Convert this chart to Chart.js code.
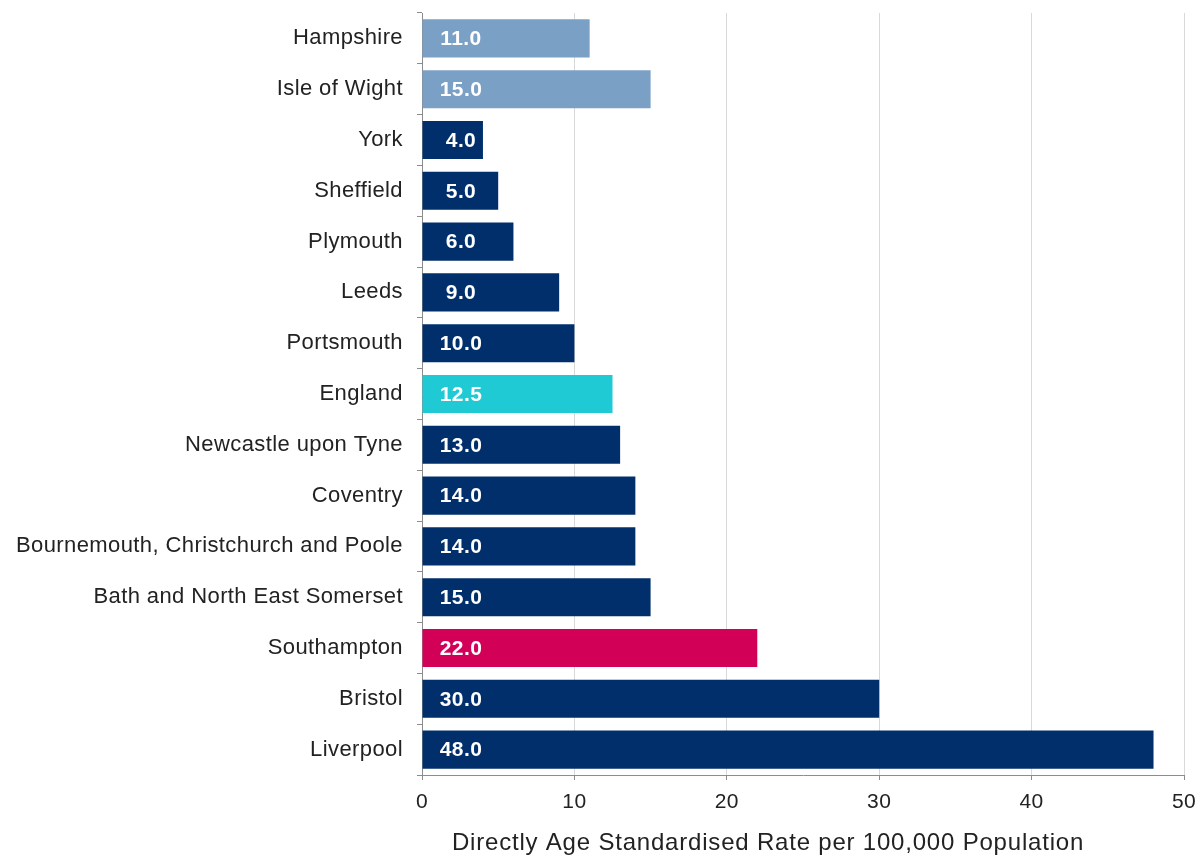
<!DOCTYPE html>
<html>
<head>
<meta charset="utf-8">
<script src="https://cdn.jsdelivr.net/npm/chart.js@4/dist/chart.umd.min.js"></script>
<style>
  html, body { margin: 0; padding: 0; background: #fff; }
  #wrap { width: 1204px; height: 858px; }
</style>
</head>
<body>
<div id="wrap"><canvas id="chart" width="1204" height="858"></canvas></div>
<script>
// 地域別の率（人口10万人あたり）
const areas = [
  'Hampshire', 'Isle of Wight', 'York', 'Sheffield', 'Plymouth', 'Leeds',
  'Portsmouth', 'England', 'Newcastle upon Tyne', 'Coventry',
  'Bournemouth, Christchurch and Poole', 'Bath and North East Somerset',
  'Southampton', 'Bristol', 'Liverpool'
];
const rates = [11.0, 15.0, 4.0, 5.0, 6.0, 9.0, 10.0, 12.5, 13.0, 14.0, 14.0, 15.0, 22.0, 30.0, 48.0];
const xTicks = [0, 10, 20, 30, 40, 50];
const xTitle = 'Directly Age Standardised Rate per 100,000 Population';

const FONT = '"Liberation Sans", Arial, sans-serif';
const NAVY = '#002F6B';
const barColors = areas.map((name) => {
  if (name === 'Hampshire' || name === 'Isle of Wight') return '#7BA0C6';
  if (name === 'England') return '#1FCAD5';
  if (name === 'Southampton') return '#D30058';
  return NAVY;
});

// 文字間隔を少し広げる（計測前に設定）
const letterSpacing = {
  id: 'letterSpacing',
  beforeInit(chart) { chart.ctx.letterSpacing = '0.4px'; },
  beforeUpdate(chart) { chart.ctx.letterSpacing = '0.4px'; }
};

// バー内の値ラベルと軸タイトルを描画
const overlayText = {
  id: 'overlayText',
  afterDatasetsDraw(chart) {
    const { ctx, scales: { x, y } } = chart;
    const cx = x.getPixelForValue(0) + 39;
    ctx.save();
    ctx.letterSpacing = '0.4px';
    ctx.fillStyle = '#ffffff';
    ctx.font = 'bold 21px ' + FONT;
    ctx.textAlign = 'center';
    ctx.textBaseline = 'middle';
    rates.forEach((v, i) => {
      ctx.fillText(v.toFixed(1), cx, y.getPixelForValue(i) + 1);
    });
    // 軸タイトル（やや左寄せ）
    ctx.letterSpacing = '0.8px';
    ctx.fillStyle = '#222';
    ctx.font = '24px ' + FONT;
    ctx.fillText(xTitle, 768, 843);
    ctx.restore();
  }
};

Chart.defaults.font.family = FONT;
Chart.defaults.color = '#222';

new Chart(document.getElementById('chart'), {
  type: 'bar',
  data: {
    labels: areas,
    datasets: [{
      data: rates,
      backgroundColor: barColors,
      borderWidth: 0,
      categoryPercentage: 1.0,
      barPercentage: 0.75
    }]
  },
  options: {
    indexAxis: 'y',
    responsive: false,
    animation: false,
    layout: { padding: { top: 13, right: 20, left: 0, bottom: 0 } },
    plugins: {
      legend: { display: false },
      tooltip: { enabled: false }
    },
    scales: {
      x: {
        min: 0,
        max: 50,
        afterBuildTicks(scale) {
          scale.ticks = xTicks.map((v) => ({ value: v }));
        },
        afterFit(scale) {
          scale.height = 83;
          scale.paddingLeft = 0;
          scale.paddingRight = 0;
        },
        border: { color: '#8c8c8c', width: 1 },
        grid: {
          color: (c) => (c.tick && c.tick.value === 0 ? 'rgba(0,0,0,0)' : '#d9d9d9'),
          tickColor: '#8c8c8c',
          tickLength: 5
        },
        ticks: {
          font: { size: 21 },
          color: '#222',
          padding: 10
        }
      },
      y: {
        offset: true,
        afterFit(scale) {
          scale.width = 422;
          scale.paddingTop = 0;
          scale.paddingBottom = 0;
        },
        border: { color: '#8c8c8c', width: 1 },
        grid: {
          offset: true,
          drawOnChartArea: false,
          tickColor: '#8c8c8c',
          tickLength: 5
        },
        ticks: {
          font: { size: 22 },
          color: '#222',
          padding: 14
        }
      }
    }
  },
  plugins: [letterSpacing, overlayText]
});
</script>
</body>
</html>
